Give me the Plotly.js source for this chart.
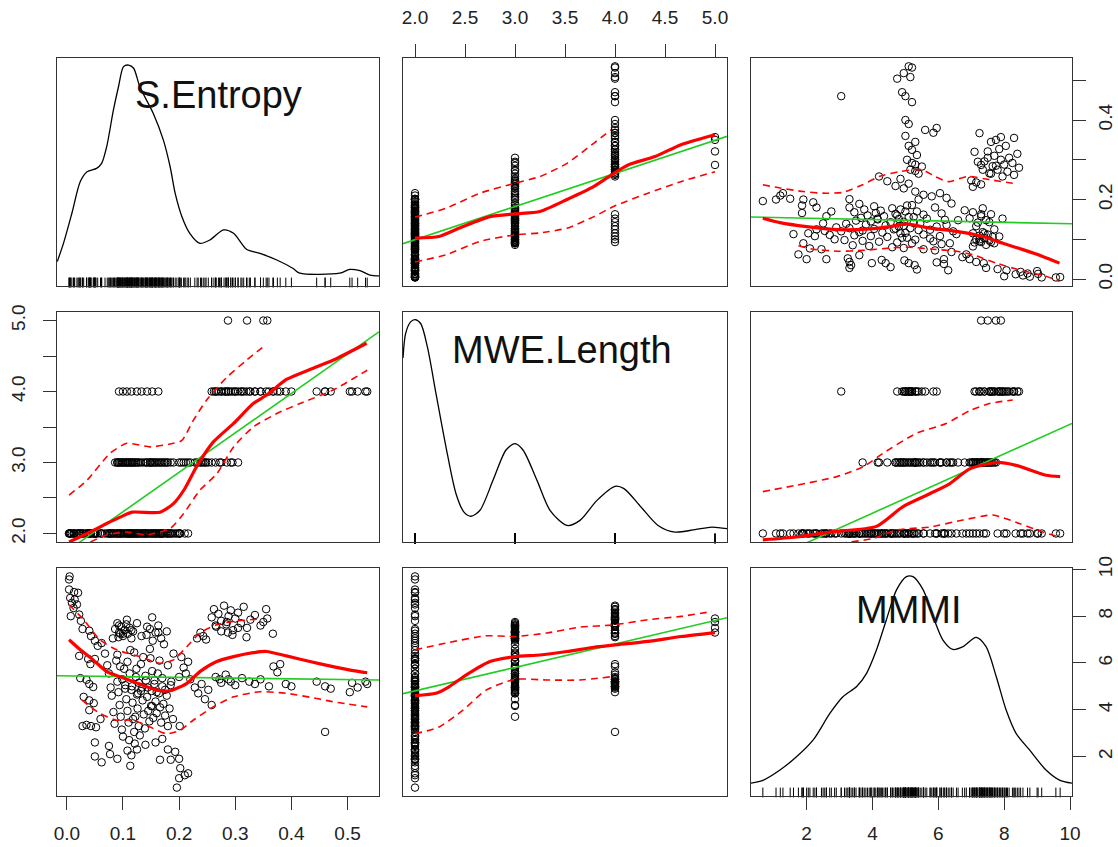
<!DOCTYPE html>
<html><head><meta charset="utf-8">
<script src="https://cdn.plot.ly/plotly-3.0.1.min.js"></script>
<style>html,body{margin:0;padding:0;background:#fff}#chart{width:1118px;height:847px}</style>
</head><body><div id="chart"></div>
<script>
// ---------------- data: observations grouped by MWE.Length ----------------
const S_L2 = [
0.005,0.004,0.004,0.013,0.020,0.006,0.014,0.009,0.018,0.022,0.007,0.012,
0.025,0.028,0.040,0.043,0.050,0.055,0.022,0.038,0.050,0.042,
0.024,0.035,0.040,0.047,0.030,0.040,0.048,0.040,0.028,0.035,0.043,0.052,0.050,0.050,0.077,0.060,
0.196,0.200,0.216,0.202,0.166,0.185,0.200,0.193,0.210,0.180,
0.113,0.115,0.075,0.062,0.090,0.108,0.125,0.140,
0.062,0.068,0.072,0.075,0.078,0.080,0.083,0.085,0.088,0.090,0.092,0.094,0.096,0.098,0.100,0.102,
0.104,0.106,0.108,0.110,0.111,0.113,0.115,0.117,0.118,0.120,0.121,0.123,0.125,0.126,0.128,0.130,
0.132,0.134,0.135,0.137,0.139,0.141,0.143,0.145,0.147,0.149,0.151,0.152,0.154,0.156,0.158,0.160,
0.162,0.164,0.166,0.168,0.170,0.172,0.175,0.178,0.180,0.183,0.186,0.189,0.170,0.158,0.095,0.082,
0.201];
const M_L2 = [
9.70,9.57,9.14,9.03,9.00,8.78,8.71,8.57,8.50,8.07,8.00,8.35,
7.80,7.45,7.38,7.15,6.95,6.73,6.30,6.17,6.17,5.95,
5.35,5.28,5.10,4.97,4.55,4.40,4.28,3.98,3.30,3.35,3.30,3.25,2.60,2.00,2.10,3.60,
0.67,1.07,1.28,1.50,1.86,1.86,1.90,2.20,1.20,2.30,
1.60,2.05,2.45,1.75,1.90,2.25,2.30,2.50,
6.85,6.40,5.90,5.55,4.95,4.60,3.90,3.40,6.10,5.20,4.75,4.20,3.70,3.15,2.85,5.75,
5.05,4.45,3.95,3.45,2.70,6.55,4.85,4.30,3.60,3.05,2.55,5.40,4.65,4.05,3.30,2.90,
5.95,4.95,4.40,3.80,3.20,5.25,4.55,3.95,3.50,6.20,4.80,4.15,3.65,5.10,4.35,3.85,
5.55,4.70,4.10,3.45,5.00,4.25,3.75,4.60,3.30,4.05,5.20,3.60,2.75,2.60,7.25,7.05,
3.30];
const S_L3 = [
0.086,0.090,0.093,0.097,0.100,0.103,0.106,0.109,0.112,0.115,0.118,0.092,
0.142,0.148,0.153,0.158,0.163,0.168,0.173,0.178,
0.090,0.095,0.099,0.104,0.108,0.112,0.116,0.120,0.124,0.128,0.132,0.136,0.140,0.144,0.148,0.152,
0.156,0.160,0.165,0.170,0.175,0.180,0.185,0.190,0.127,
0.200,0.204,0.208,0.212,0.216,0.220,
0.232,0.238,0.243,0.248,
0.228,0.234,0.240,0.246,0.252,0.258,
0.265,0.275,0.285,0.295,0.305,
0.272,0.292,
0.122,0.150];
const M_L3 = [
7.45,7.70,7.30,7.55,7.15,7.40,7.65,7.25,7.50,7.05,7.35,7.10,
7.20,7.45,6.95,7.30,7.60,7.05,6.80,7.35,
6.35,5.85,5.30,4.90,6.05,5.55,5.00,6.45,5.75,5.15,4.80,6.25,5.45,4.95,6.60,5.65,
5.25,4.75,6.10,5.35,4.85,5.90,5.05,6.40,4.70,
5.40,6.25,5.80,5.55,6.05,5.30,
7.05,7.30,7.15,7.00,
4.95,4.70,5.10,4.45,4.85,4.20,
7.60,7.35,7.75,7.20,7.50,
5.30,5.20,
3.70,4.16];
const S_L4 = [
0.093,0.100,0.107,0.115,0.125,0.133,0.143,0.152,0.163,
0.258,0.262,0.266,0.270,0.275,0.280,0.284,0.288,0.292,0.296,0.300,0.305,0.310,0.315,0.320,0.327,0.335,0.345,0.355,0.367,
0.265,0.275,0.288,0.300,0.312,0.325,0.335,0.345,0.360,0.375,0.390,0.400,0.368,0.380,0.283,
0.445,0.460,0.470,0.504,0.508,0.518,0.532,0.535,
0.460];
const M_L4 = [
7.60,7.25,7.85,7.40,7.70,7.15,7.55,7.95,7.30,
7.95,8.30,7.55,8.10,7.80,8.45,7.65,8.00,8.25,7.40,7.90,8.15,7.70,8.40,7.10,7.85,8.05,7.60,8.30,7.25,
5.40,5.15,5.30,5.05,5.35,5.20,5.10,5.30,5.00,5.60,5.10,5.00,5.85,5.95,5.50,
5.20,5.00,4.90,4.75,5.15,4.95,5.20,5.10,
3.05];
const S_L5 = [0.287,0.321,0.350,0.357];
const M_L5 = [7.30,7.50,7.75,7.90];

// ---------------- curves (data units) ----------------
// row 1, col 2 : x = MWE.Length, y = S.Entropy
const fit12_x = [1.88,5.12], fit12_y = [0.089,0.359];
const sm12_x = [2.0,2.24,2.48,2.75,3.0,3.25,3.52,3.79,3.99,4.13,4.4,4.66,5.0];
const sm12_y = [0.103,0.107,0.132,0.157,0.164,0.17,0.2,0.233,0.266,0.287,0.308,0.338,0.363];
const up12_x = [2.0,2.31,2.65,3.0,3.25,3.52,3.79,3.96];
const up12_y = [0.156,0.178,0.216,0.241,0.258,0.291,0.342,0.375];
const lo12_x = [2.0,2.31,2.65,3.0,3.25,3.52,3.79,3.99,4.33,4.66,5.0];
const lo12_y = [0.043,0.061,0.095,0.111,0.116,0.128,0.157,0.183,0.216,0.245,0.27];
// row 1, col 3 : x = MMMI, y = S.Entropy
const fit13_x = [0.31,10.06], fit13_y = [0.156,0.139];
const sm13_x = [0.67,1.19,2.0,3.0,3.92,4.53,5.03,5.74,6.55,7.35,7.96,8.57,9.17,9.68];
const sm13_y = [0.153,0.142,0.132,0.124,0.126,0.132,0.139,0.128,0.12,0.107,0.09,0.074,0.057,0.04];
const up13_x = [0.67,1.19,1.9,2.5,3.1,3.7,4.2,4.8,5.5,5.9,6.3,6.9,7.55,8.26];
const up13_y = [0.237,0.229,0.22,0.216,0.218,0.237,0.258,0.27,0.275,0.258,0.245,0.258,0.25,0.241];
const lo13_x = [1.75,2.2,3.0,3.7,4.53,5.13,5.84,6.55,7.05,7.76,8.46,9.27,9.68];
const lo13_y = [0.084,0.075,0.07,0.072,0.078,0.08,0.075,0.07,0.061,0.04,0.023,0.007,-0.006];
// row 2, col 1 : x = S.Entropy, y = MWE.Length
const fit21_x = [-0.0175,0.556], fit21_y = [1.653,4.84];
const sm21_x = [0.004,0.036,0.071,0.095,0.116,0.166,0.19,0.21,0.231,0.261,0.297,0.332,0.356,0.391,0.433,0.474,0.534];
const sm21_y = [1.88,2.0,2.14,2.23,2.30,2.30,2.42,2.63,2.94,3.29,3.55,3.83,3.95,4.17,4.31,4.44,4.68];
const up21_x = [0.004,0.036,0.077,0.107,0.148,0.19,0.205,0.225,0.249,0.285,0.32,0.353];
const up21_y = [2.54,2.75,3.13,3.27,3.22,3.27,3.31,3.59,3.88,4.2,4.44,4.65];
const lo21_x = [0.042,0.071,0.107,0.142,0.184,0.208,0.237,0.267,0.297,0.332,0.374,0.415,0.474,0.535];
const lo21_y = [1.88,1.98,2.02,1.98,2.07,2.28,2.61,2.84,3.22,3.5,3.69,3.83,4.02,4.3];
// row 2, col 3 : x = MMMI, y = MWE.Length
const fit23_x = [0.31,10.06], fit23_y = [1.516,3.55];
const sm23_x = [0.67,1.7,2.71,4.12,4.93,5.74,6.34,6.95,7.76,8.36,9.27,9.7];
const sm23_y = [1.91,1.95,2.02,2.1,2.38,2.56,2.7,2.91,3.0,2.96,2.82,2.8];
const up23_x = [0.67,1.7,2.91,3.72,4.32,5.33,6.24,6.95,7.55,8.26];
const up23_y = [2.59,2.68,2.8,2.94,3.13,3.41,3.55,3.73,3.83,3.88];
const lo23_x = [3.0,4.02,4.73,5.74,6.75,7.66,8.46,9.17,9.68];
const lo23_y = [1.86,1.93,2.05,2.09,2.19,2.26,2.14,2.02,1.95];
// row 3, col 1 : x = S.Entropy, y = MMMI
const fit31_x = [-0.0175,0.556], fit31_y = [5.455,5.27];
const sm31_x = [0.004,0.024,0.047,0.071,0.095,0.119,0.142,0.16,0.184,0.214,0.237,0.267,0.297,0.332,0.356,0.391,0.433,0.474,0.51,0.535];
const sm31_y = [6.99,6.56,6.13,5.63,5.41,5.2,4.98,4.84,4.81,5.13,5.63,6.06,6.27,6.44,6.49,6.3,6.06,5.84,5.67,5.58];
const up31_x = [0.004,0.03,0.059,0.089,0.13,0.166,0.19,0.214,0.237,0.267,0.297,0.344];
const up31_y = [8.49,7.85,6.99,6.56,6.27,5.99,6.13,6.7,7.28,7.63,7.78,7.88];
const lo31_x = [0.027,0.059,0.089,0.119,0.148,0.178,0.202,0.225,0.261,0.297,0.344,0.391,0.445,0.474,0.535];
const lo31_y = [4.41,3.84,3.55,3.55,3.26,2.97,3.12,3.55,4.12,4.55,4.77,4.7,4.48,4.34,4.12];
// row 3, col 2 : x = MWE.Length, y = MMMI
const fit32_x = [1.88,5.12], fit32_y = [4.685,7.935];
const sm32_x = [2.0,2.21,2.34,2.51,2.75,3.0,3.25,3.52,3.79,4.0,4.33,4.66,5.0];
const sm32_y = [4.6,4.7,4.98,5.48,6.06,6.27,6.34,6.49,6.67,6.77,6.92,7.13,7.3];
const up32_x = [2.0,2.31,2.71,3.0,3.32,3.65,4.0,4.33,4.66,4.97];
const up32_y = [6.56,6.85,7.16,7.13,7.28,7.53,7.63,7.85,7.99,8.2];
const lo32_x = [2.0,2.24,2.48,2.71,3.0,3.32,3.65,3.96];
const lo32_y = [2.97,3.26,3.98,4.84,5.3,5.27,5.27,5.41];

// densities on the diagonal (height as share of panel)
const dS_x = [-0.017,-0.006,0.009,0.024,0.036,0.053,0.062,0.071,0.083,0.092,0.101,0.11,0.119,0.13,0.154,0.172,0.184,0.193,0.205,0.219,0.237,0.255,0.279,0.297,0.32,0.344,0.374,0.403,0.415,0.486,0.504,0.522,0.54,0.556];
const dS_y = [0.107,0.187,0.319,0.458,0.501,0.516,0.538,0.611,0.772,0.874,0.962,0.969,0.955,0.874,0.757,0.64,0.523,0.406,0.304,0.231,0.187,0.202,0.246,0.231,0.161,0.143,0.114,0.077,0.056,0.056,0.073,0.067,0.048,0.044];
const dL_x = [1.88,1.906,1.956,2.0,2.057,2.124,2.21,2.31,2.41,2.49,2.56,2.65,2.78,2.91,3.0,3.08,3.22,3.35,3.52,3.65,3.82,4.0,4.09,4.26,4.43,4.6,4.8,4.97,5.12];
const dL_y = [0.80,0.906,0.957,0.967,0.95,0.848,0.645,0.413,0.21,0.13,0.112,0.138,0.268,0.40,0.428,0.40,0.268,0.138,0.072,0.094,0.181,0.242,0.232,0.152,0.072,0.043,0.054,0.065,0.058];
const dM_x = [0.31,0.69,1.19,1.7,2.2,2.71,3.11,3.52,3.82,4.12,4.42,4.73,5.03,5.23,5.54,5.84,6.14,6.44,6.75,7.15,7.45,7.76,8.06,8.36,8.77,9.27,9.68,10.06];
const dM_y = [0.056,0.07,0.114,0.173,0.246,0.363,0.436,0.48,0.538,0.64,0.772,0.904,0.962,0.962,0.904,0.787,0.684,0.643,0.655,0.696,0.655,0.523,0.377,0.275,0.202,0.114,0.07,0.056];

const varNames = ['S.Entropy','MWE.Length','MMMI'];

// ---------------- assemble ----------------
const sEntropy=[], mweLength=[], mmmi=[];
[[2,S_L2,M_L2],[3,S_L3,M_L3],[4,S_L4,M_L4],[5,S_L5,M_L5]].forEach(([len,s,m])=>{
  s.forEach((v,i)=>{ sEntropy.push(v); mweLength.push(len); mmmi.push(m[i]); });
});
const vars = [sEntropy, mweLength, mmmi];
const ranges = [[-0.0175,0.556],[1.88,5.12],[0.31,10.06]];
const W=1118, H=847;
const colPx=[[57,379],[403,727],[751,1072]];
const rowPx=[[58,286],[312,542],[568,796]];
const curves = {
  '0,1':{fit:[fit12_x,fit12_y],sm:[sm12_x,sm12_y],up:[up12_x,up12_y],lo:[lo12_x,lo12_y]},
  '0,2':{fit:[fit13_x,fit13_y],sm:[sm13_x,sm13_y],up:[up13_x,up13_y],lo:[lo13_x,lo13_y]},
  '1,0':{fit:[fit21_x,fit21_y],sm:[sm21_x,sm21_y],up:[up21_x,up21_y],lo:[lo21_x,lo21_y]},
  '1,2':{fit:[fit23_x,fit23_y],sm:[sm23_x,sm23_y],up:[up23_x,up23_y],lo:[lo23_x,lo23_y]},
  '2,0':{fit:[fit31_x,fit31_y],sm:[sm31_x,sm31_y],up:[up31_x,up31_y],lo:[lo31_x,lo31_y]},
  '2,1':{fit:[fit32_x,fit32_y],sm:[sm32_x,sm32_y],up:[up32_x,up32_y],lo:[lo32_x,lo32_y]}
};
const dens = [[dS_x,dS_y],[dL_x,dL_y],[dM_x,dM_y]];

const traces=[];
const layout = {
  width:W, height:H, margin:{l:0,r:0,t:0,b:0}, showlegend:false, hovermode:false,
  paper_bgcolor:'#fff', plot_bgcolor:'#fff',
  font:{family:'Liberation Sans, Arial, sans-serif', color:'#222'},
  annotations:[]
};
const tickFont = {family:'Liberation Sans, Arial, sans-serif', size:19, color:'#222'};
function baseAxis(domain, range){
  return {domain, range, showgrid:false, zeroline:false, showline:true, mirror:true,
          linecolor:'#333', linewidth:1.2, ticks:'', showticklabels:false, fixedrange:true};
}
for(let r=0;r<3;r++){
  for(let c=0;c<3;c++){
    const n=r*3+c+1, xs = n===1?'':String(n);
    const xa='x'+xs, ya='y'+xs;
    const xd=[colPx[c][0]/W, colPx[c][1]/W];
    const yd=[1-rowPx[r][1]/H, 1-rowPx[r][0]/H];
    const xax = baseAxis(xd, ranges[c]); xax.anchor=ya;
    const yax = baseAxis(yd, r===c?[0,1]:ranges[r]); yax.anchor=xa;
    layout['xaxis'+xs]=xax; layout['yaxis'+xs]=yax;
    if(r!==c){
      traces.push({type:'scatter',mode:'markers',x:vars[c],y:vars[r],xaxis:xa,yaxis:ya,
        marker:{symbol:'circle-open',size:7.5,color:'#000',line:{width:1,color:'#000'}},hoverinfo:'skip'});
      const cv=curves[r+','+c];
      traces.push({type:'scatter',mode:'lines',x:cv.fit[0],y:cv.fit[1],xaxis:xa,yaxis:ya,
        line:{color:'#22cc22',width:1.6},hoverinfo:'skip'});
      ['up','lo'].forEach(k=>traces.push({type:'scatter',mode:'lines',x:cv[k][0],y:cv[k][1],xaxis:xa,yaxis:ya,
        line:{color:'#ff0000',width:1.6,dash:'7px,5px',shape:'spline',smoothing:0.6},hoverinfo:'skip'}));
      traces.push({type:'scatter',mode:'lines',x:cv.sm[0],y:cv.sm[1],xaxis:xa,yaxis:ya,
        line:{color:'#ff0000',width:3.2,shape:'spline',smoothing:0.6},hoverinfo:'skip'});
    } else {
      traces.push({type:'scatter',mode:'lines',x:dens[r][0],y:dens[r][1],xaxis:xa,yaxis:ya,
        line:{color:'#000',width:1.3,shape:'spline',smoothing:0.8},hoverinfo:'skip'});
      const ph = rowPx[r][1]-rowPx[r][0];
      traces.push({type:'scatter',mode:'markers',x:vars[r],y:vars[r].map(()=>3.5/ph),xaxis:xa,yaxis:ya,
        marker:{symbol:'line-ns',size:7,color:'#000',line:{width:1,color:'#000'}},cliponaxis:false,hoverinfo:'skip'});
    }
  }
}
function setTicks(ax, side, vals, text, angle, standoff){
  Object.assign(ax,{side, ticks:'outside', ticklen:13, tickwidth:1, tickcolor:'#333',
    tickmode:'array', tickvals:vals, ticktext:text, showticklabels:true, tickfont:tickFont,
    tickangle:angle, ticklabelstandoff:standoff});
}
setTicks(layout.xaxis2,'top',[2,2.5,3,3.5,4,4.5,5],['2.0','2.5','3.0','3.5','4.0','4.5','5.0'],0,12);
setTicks(layout.xaxis7,'bottom',[0,0.1,0.2,0.3,0.4,0.5],['0.0','0.1','0.2','0.3','0.4','0.5'],0,7);
setTicks(layout.xaxis9,'bottom',[2,4,6,8,10],['2','4','6','8','10'],0,7);
setTicks(layout.yaxis3,'right',[0,0.1,0.2,0.3,0.4,0.5],['0.0','','0.2','','0.4',''],-90,3);
setTicks(layout.yaxis4,'left',[2,2.5,3,3.5,4,4.5,5],['2.0','','3.0','','4.0','','5.0'],-90,10);
const mr = ranges[2];
setTicks(layout.yaxis9,'right',[2,4,6,8,10].map(v=>(v-mr[0])/(mr[1]-mr[0])),['2','4','6','8','10'],-90,3);

const labelPos = [[218,95],[562,350],[909,610]];
varNames.forEach((name,i)=>{
  layout.annotations.push({text:name, xref:'paper', yref:'paper', x:labelPos[i][0]/W, y:1-labelPos[i][1]/H,
    xanchor:'center', yanchor:'middle', showarrow:false,
    font:{family:'Liberation Sans, Arial, sans-serif', size:38, color:'#111'}});
});
Plotly.newPlot('chart', traces, layout, {staticPlot:true, displayModeBar:false});
</script></body></html>
